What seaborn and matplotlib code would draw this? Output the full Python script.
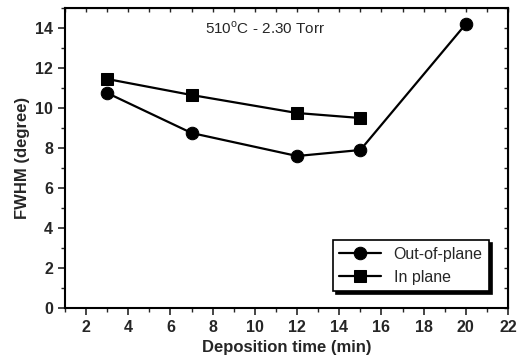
import matplotlib
matplotlib.use("Agg")
import matplotlib.pyplot as plt
import seaborn as sns
import pandas as pd
from matplotlib.ticker import MultipleLocator

sns.set_style("ticks")
plt.rcParams['font.family'] = ['Liberation Sans', 'DejaVu Sans']

out_x = [3, 7, 12, 15, 20]
out_y = [10.75, 8.75, 7.6, 7.9, 14.2]
in_x = [3, 7, 12, 15]
in_y = [11.45, 10.65, 9.75, 9.5]
series_names = ["Out-of-plane", "In plane"]

df = pd.concat([
    pd.DataFrame({"x": out_x, "y": out_y, "series": series_names[0]}),
    pd.DataFrame({"x": in_x, "y": in_y, "series": series_names[1]}),
])

fig = plt.figure(figsize=(5.18, 3.56), dpi=100)
ax = fig.add_axes([0.1255, 0.1348, 0.8552, 0.8427])

sns.lineplot(data=df, x="x", y="y", hue="series", style="series",
             markers={"Out-of-plane": "o", "In plane": "s"}, dashes=False,
             palette={"Out-of-plane": "black", "In plane": "black"},
             markersize=9, linewidth=1.6, markeredgecolor="black",
             ax=ax, legend=True, sort=False)

ax.set_xlim(1, 22)
ax.set_ylim(0, 15)
ax.set_xticks(range(2, 23, 2))
ax.xaxis.set_minor_locator(MultipleLocator(1))
ax.yaxis.set_major_locator(MultipleLocator(2))
ax.yaxis.set_minor_locator(MultipleLocator(1))
ax.tick_params(which="major", direction="out", length=5, width=1.2, labelsize=11.5)
ax.tick_params(which="minor", direction="out", length=3, width=1)
for spine in ax.spines.values():
    spine.set_linewidth(1.5)
    spine.set_color("black")
for lab in ax.get_xticklabels() + ax.get_yticklabels():
    lab.set_fontweight("bold")

# inward ticks on top and right
top = ax.secondary_xaxis("top")
top.set_xticks(range(2, 23, 2))
top.xaxis.set_minor_locator(MultipleLocator(1))
top.tick_params(which="both", direction="in", labeltop=False, length=3, width=1)
right = ax.secondary_yaxis("right")
right.yaxis.set_major_locator(MultipleLocator(2))
right.yaxis.set_minor_locator(MultipleLocator(1))
right.tick_params(which="both", direction="in", labelright=False, length=3, width=1)

ax.set_xlabel("Deposition time (min)", fontsize=12, fontweight="bold")
ax.set_ylabel("FWHM (degree)", fontsize=12, fontweight="bold")

ax.text(10.5, 14.0, "510$^{\\mathregular{o}}$C - 2.30 Torr", fontsize=11, ha="center", va="center")

leg = ax.legend(loc="lower right", bbox_to_anchor=(0.975, 0.03), frameon=True,
                fancybox=False, shadow={"color": "black", "alpha": 1}, fontsize=11.5,
                handlelength=2.6, borderpad=0.4, edgecolor="black", framealpha=1)
leg.get_frame().set_linewidth(1.2)
for h in leg.legend_handles:
    h.set_color("black")

fig.savefig("out.png", dpi=100)
